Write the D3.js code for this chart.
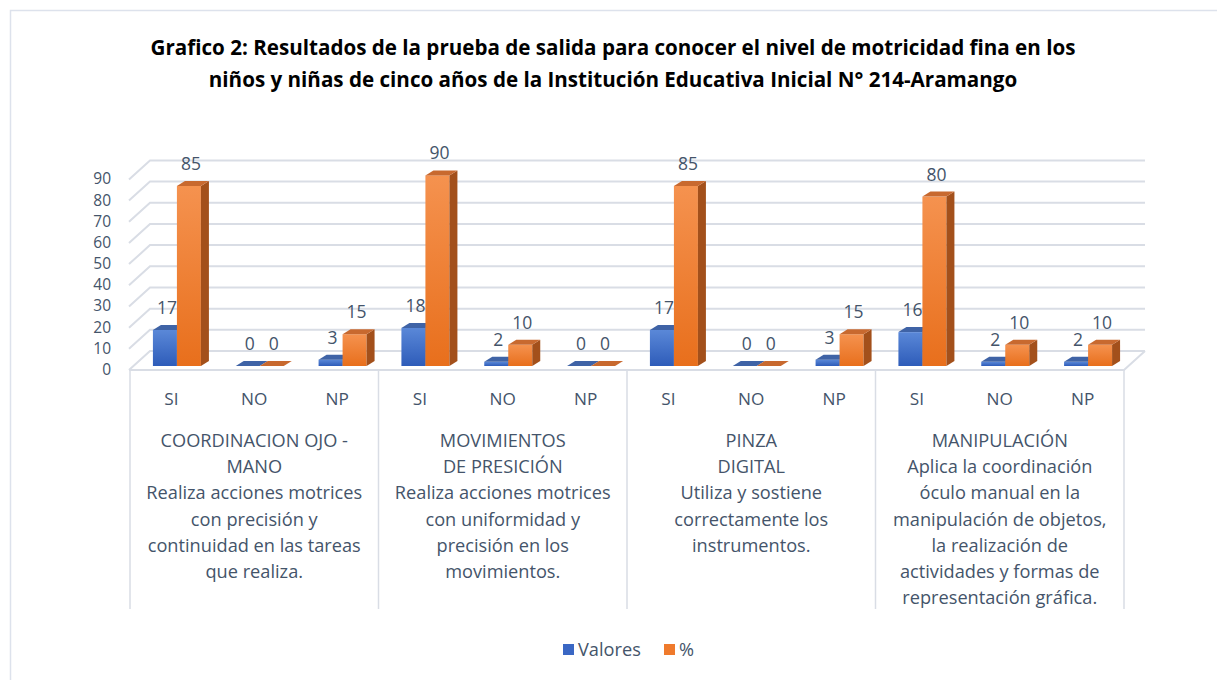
<!DOCTYPE html>
<html>
<head>
<meta charset="utf-8">
<script src="https://cdn.jsdelivr.net/npm/d3@7"></script>
<style>
  body { margin: 0; background: #fff; }
  text { font-family: "Open Sans", Lato, sans-serif; }
</style>
</head>
<body>
<div id="chart"></div>
<script>
// data
const categories = ["COORDINACION", "MOVIMIENTOS", "PINZA", "MANIPULACION"];
const answers = ["SI", "NO", "NP"];
const series = ["Valores", "%"];
const valores = [[17, 0, 3], [18, 2, 0], [17, 0, 3], [16, 2, 2]];
const porcentaje = [[85, 0, 15], [90, 10, 0], [85, 0, 15], [80, 10, 10]];
const yTicks = [0, 10, 20, 30, 40, 50, 60, 70, 80, 90];
const catLabels = [
  ["COORDINACION OJO -", "MANO", "Realiza acciones motrices", "con precisión y", "continuidad en las tareas", "que realiza."],
  ["MOVIMIENTOS", "DE PRESICIÓN", "Realiza acciones motrices", "con uniformidad y", "precisión en los", "movimientos."],
  ["PINZA", "DIGITAL", "Utiliza y sostiene", "correctamente los", "instrumentos."],
  ["MANIPULACIÓN", "Aplica la coordinación", "óculo manual en la", "manipulación de objetos,", "la realización de", "actividades y formas de", "representación gráfica."]
];
const titleLines = [
  "Grafico 2: Resultados de la prueba de salida para conocer el nivel de motricidad fina en los",
  "niños y niñas de cinco años de la Institución Educativa Inicial N° 214-Aramango"
];

const width = 1217, height = 680;
const textColor = "#44546a";
const gridColor = "#d9dde5";
const fs = 18.2;     // category text
const fsNum = 15.5;  // y ticks

const svg = d3.select("#chart").append("svg")
  .attr("width", width).attr("height", height);

// gradients
const defs = svg.append("defs");
function grad(id, top, bottom) {
  const g = defs.append("linearGradient").attr("id", id)
    .attr("x1", 0).attr("y1", 0).attr("x2", 0).attr("y2", 1);
  g.append("stop").attr("offset", "0%").attr("stop-color", top);
  g.append("stop").attr("offset", "100%").attr("stop-color", bottom);
}
grad("gBlue", "#5a88d8", "#2e5cb9");
grad("gOrange", "#f5924f", "#e86f1c");
const colors = {
  Valores: {front: "url(#gBlue)", side: "#2b4f93", top: "#3f63a6", legend: "#3a67c4"},
  "%": {front: "url(#gOrange)", side: "#a3501b", top: "#c8692f", legend: "#ef7a2c"}
};

// frame
svg.append("rect").attr("x", 10.5).attr("y", 10.5)
  .attr("width", 1230).attr("height", 700)
  .attr("fill", "none").attr("stroke", "#dde2ec").attr("stroke-width", 1.5);

// title
svg.append("g").selectAll("text").data(titleLines).enter().append("text")
  .attr("x", 613).attr("y", (d, i) => 55 + i * 32)
  .attr("text-anchor", "middle")
  .attr("font-size", 20.6).attr("font-weight", "bold").attr("fill", "#000")
  .text(d => d);

// scales
const x0 = d3.scaleBand().domain(categories).range([130, 1124]);
const x1 = d3.scaleBand().domain(answers).range([0, x0.bandwidth()]);
const xs = d3.scaleBand().domain(series).range([-18.5, 29.5]);
const y = d3.scaleLinear().domain([0, 90]).range([366, 175.4]);

const front = {x: 129, dy: 4};
const back = {x: 150, dy: -15};
const depth = {dx: 8, dy: -5};

// back wall + side wall gridlines
const grid = svg.append("g");
yTicks.forEach(t => {
  grid.append("path")
    .attr("d", `M${front.x},${y(t) + front.dy}L${back.x},${y(t) + back.dy}L1145,${y(t) + back.dy}`)
    .attr("fill", "none").attr("stroke", gridColor).attr("stroke-width", 2);
});
// floor front edge
grid.append("path")
  .attr("d", `M${front.x},${y(0) + front.dy}L1124,${y(0) + front.dy}L1145,${y(0) + back.dy}`)
  .attr("fill", "none").attr("stroke", gridColor).attr("stroke-width", 2);

// y axis labels
svg.append("g").selectAll("text").data(yTicks).enter().append("text")
  .attr("x", 111).attr("y", d => y(d) + 9)
  .attr("text-anchor", "end")
  .attr("font-size", fsNum).attr("fill", textColor)
  .text(d => d);

// category dividers
const dividers = categories.map(c => x0(c)).concat([x0.range()[1]]);
svg.append("g").selectAll("line").data(dividers).enter().append("line")
  .attr("x1", d => d).attr("x2", d => d)
  .attr("y1", y(0) + front.dy).attr("y2", 609)
  .attr("stroke", gridColor).attr("stroke-width", 1.5);

// bars
const bars = [];
categories.forEach((c, ci) => {
  answers.forEach((a, ai) => {
    const cx = x0(c) + x1(a) + x1.bandwidth() / 2;
    bars.push({s: "Valores", v: valores[ci][ai], x: cx + xs("Valores")});
    bars.push({s: "%", v: porcentaje[ci][ai], x: cx + xs("%")});
  });
});
const bw = xs.bandwidth();
const barG = svg.append("g");
bars.forEach(b => {
  const col = colors[b.s];
  const yt = y(b.v), yb = y(0);
  if (b.v > 0) {
    barG.append("rect").attr("x", b.x).attr("y", yt)
      .attr("width", bw).attr("height", yb - yt).attr("fill", col.front);
    barG.append("path")
      .attr("d", `M${b.x + bw},${yt}L${b.x + bw + depth.dx},${yt + depth.dy}L${b.x + bw + depth.dx},${yb + depth.dy}L${b.x + bw},${yb}Z`)
      .attr("fill", col.side);
  }
  barG.append("path")
    .attr("d", `M${b.x},${yt}L${b.x + depth.dx},${yt + depth.dy}L${b.x + bw + depth.dx},${yt + depth.dy}L${b.x + bw},${yt}Z`)
    .attr("fill", col.top);
  barG.append("text")
    .attr("x", b.x + bw / 2 + 2).attr("y", yt - 16)
    .attr("text-anchor", "middle")
    .attr("font-size", 17.5).attr("fill", textColor)
    .text(b.v);
});

// answer labels
const ansG = svg.append("g");
categories.forEach(c => {
  answers.forEach(a => {
    ansG.append("text")
      .attr("x", x0(c) + x1(a) + x1.bandwidth() / 2)
      .attr("y", 405)
      .attr("text-anchor", "middle")
      .attr("font-size", fs - 1).attr("fill", textColor)
      .text(a);
  });
});

// category labels
categories.forEach((c, ci) => {
  svg.append("g").selectAll("text").data(catLabels[ci]).enter().append("text")
    .attr("x", x0(c) + x0.bandwidth() / 2)
    .attr("y", (d, i) => 447 + i * 26.2)
    .attr("text-anchor", "middle")
    .attr("font-size", fs).attr("fill", textColor)
    .text(d => d);
});

// legend
const leg = svg.append("g");
const legX = [563, 664];
series.forEach((s, i) => {
  leg.append("rect").attr("x", legX[i]).attr("y", 644)
    .attr("width", 11).attr("height", 11).attr("fill", colors[s].legend);
  leg.append("text").attr("x", legX[i] + 15).attr("y", 656)
    .attr("font-size", fs).attr("fill", textColor)
    .text(s);
});
</script>
</body>
</html>
